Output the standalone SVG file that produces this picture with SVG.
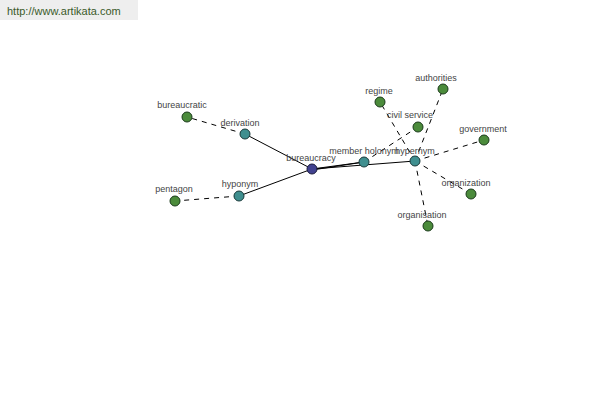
<svg xmlns="http://www.w3.org/2000/svg" width="600" height="400" viewBox="0 0 600 400">
<style>
.lbl{font-family:"Liberation Sans",Arial,sans-serif;font-size:9px;fill:#444;text-anchor:middle}
.solid{stroke:#000;stroke-width:1;fill:none}
.dash{stroke:#000;stroke-width:1;fill:none;stroke-dasharray:5,5}
.g{fill:#4b8b3b;stroke:#1a3a1a;stroke-width:1}
.t{fill:#3f8f8f;stroke:#1a3a3a;stroke-width:1}
.b{fill:#41418f;stroke:#1a1a3a;stroke-width:1}
</style>
<rect width="600" height="400" fill="#fff"/>
<g id="header">
<rect x="0" y="0" width="138" height="20" fill="#eeeeee"/>
<text x="7" y="15" font-family="'Liberation Sans',Arial,sans-serif" font-size="11" fill="#3a5a2a">http://www.artikata.com</text>
</g>
<g id="connectors">
<line class="solid" x1="312" y1="169" x2="245" y2="134"/>
<line class="solid" x1="312" y1="169" x2="239" y2="196"/>
<line class="solid" x1="312" y1="169" x2="364" y2="162"/>
<line class="solid" x1="312" y1="169" x2="415" y2="161"/>
<line class="solid" x1="312" y1="170" x2="364" y2="162"/>
<line class="dash" x1="245" y1="134" x2="187" y2="117"/>
<line class="dash" x1="239" y1="196" x2="175" y2="201"/>
<line class="dash" x1="364" y1="162" x2="418" y2="127"/>
<line class="dash" x1="415" y1="161" x2="380" y2="102"/>
<line class="dash" x1="415" y1="161" x2="443" y2="89"/>
<line class="dash" x1="415" y1="161" x2="484" y2="140"/>
<line class="dash" x1="415" y1="161" x2="471" y2="194"/>
<line class="dash" x1="415" y1="161" x2="428" y2="226"/>
</g>
<g id="bureaucratic"><circle class="g" cx="187" cy="117" r="5"/><text class="lbl" x="182" y="108">bureaucratic</text></g>
<g id="derivation"><circle class="t" cx="245" cy="134" r="5"/><text class="lbl" x="240" y="126">derivation</text></g>
<g id="pentagon"><circle class="g" cx="175" cy="201" r="5"/><text class="lbl" x="174" y="192">pentagon</text></g>
<g id="hyponym"><circle class="t" cx="239" cy="196" r="5"/><text class="lbl" x="240" y="187">hyponym</text></g>
<g id="bureaucracy"><circle class="b" cx="312" cy="169" r="5"/><text class="lbl" x="311" y="161">bureaucracy</text></g>
<g id="member-holonym"><circle class="t" cx="364" cy="162" r="5"/><text class="lbl" x="364" y="154">member holonym</text></g>
<g id="hypernym"><circle class="t" cx="415" cy="161" r="5"/><text class="lbl" x="415" y="154">hypernym</text></g>
<g id="regime"><circle class="g" cx="380" cy="102" r="5"/><text class="lbl" x="379" y="94">regime</text></g>
<g id="authorities"><circle class="g" cx="443" cy="89" r="5"/><text class="lbl" x="436" y="81">authorities</text></g>
<g id="civil-service"><circle class="g" cx="418" cy="127" r="5"/><text class="lbl" x="410" y="118">civil service</text></g>
<g id="government"><circle class="g" cx="484" cy="140" r="5"/><text class="lbl" x="483" y="132">government</text></g>
<g id="organization"><circle class="g" cx="471" cy="194" r="5"/><text class="lbl" x="466" y="186">organization</text></g>
<g id="organisation"><circle class="g" cx="428" cy="226" r="5"/><text class="lbl" x="422" y="218">organisation</text></g>
</svg>
